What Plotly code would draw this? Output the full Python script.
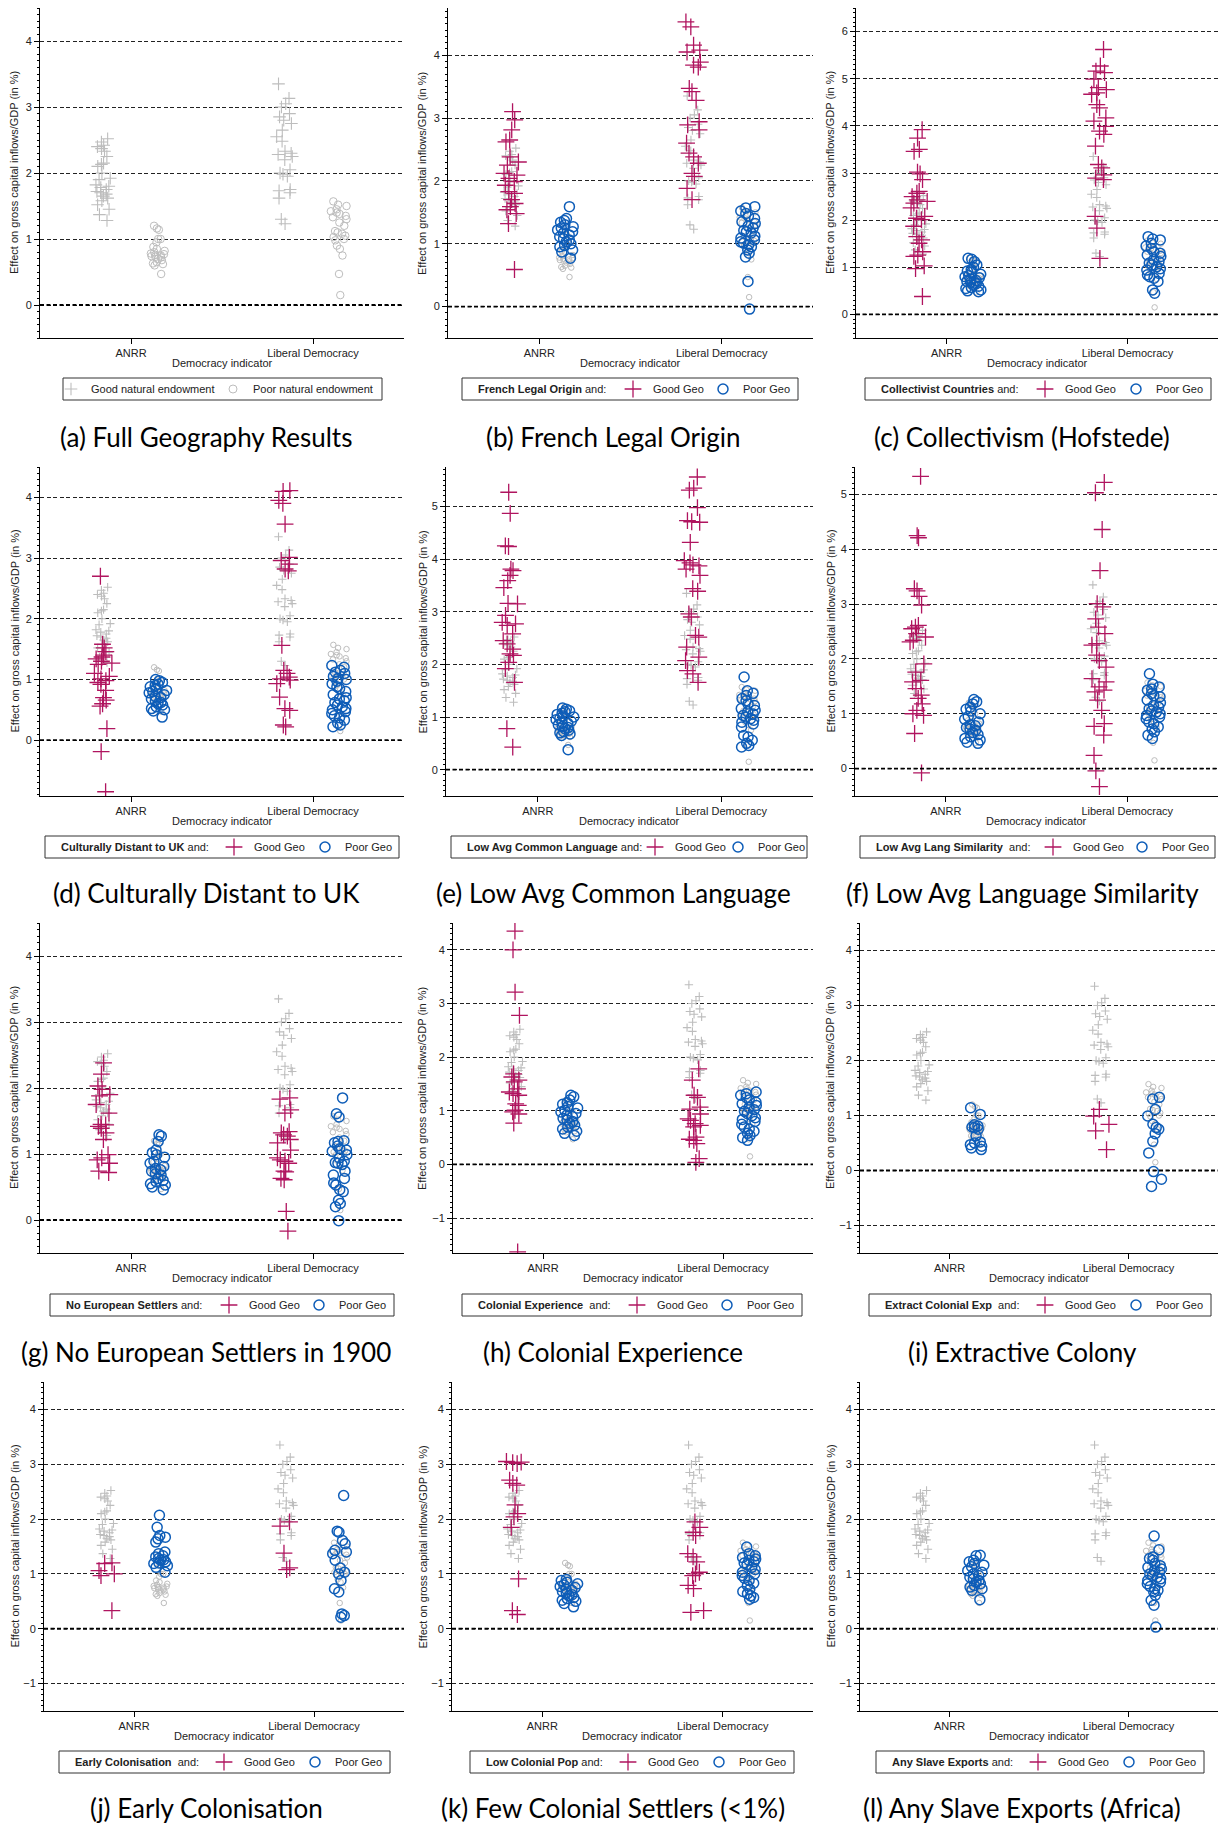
import plotly.graph_objects as go

W, H = 1220, 1825
CATS = ["ANRR", "Liberal Democracy"]

# ---------------- data (effect on gross capital inflows/GDP, in %) ----------------
# full sample (grey background in every panel)
full_good_anrr = [2.52, 2.47, 2.42, 2.40, 2.37, 2.33, 2.25, 2.15, 2.13, 2.10, 2.00, 1.92, 1.90, 1.82,
                  1.80, 1.78, 1.75, 1.72, 1.70, 1.68, 1.65, 1.62, 1.58, 1.52, 1.45, 1.37, 1.28]
full_good_libdem = [3.35, 3.13, 3.05, 3.00, 2.90, 2.85, 2.80, 2.75, 2.65, 2.55, 2.48, 2.33, 2.30, 2.28,
                    2.25, 2.20, 2.05, 2.00, 1.98, 1.95, 1.75, 1.73, 1.70, 1.62, 1.30, 1.23]
full_poor_anrr = [1.20, 1.16, 1.14, 1.00, 1.00, 0.95, 0.88, 0.85, 0.82, 0.80, 0.78, 0.77, 0.76, 0.75,
                  0.74, 0.73, 0.72, 0.70, 0.68, 0.65, 0.63, 0.62, 0.60, 0.47]
full_poor_libdem = [1.57, 1.52, 1.50, 1.45, 1.42, 1.40, 1.38, 1.35, 1.33, 1.30, 1.25, 1.20, 1.12, 1.10,
                    1.08, 1.05, 1.03, 1.00, 0.98, 0.90, 0.85, 0.75, 0.47, 0.15]

french_good_anrr = [3.10, 2.97, 2.81, 2.65, 2.62, 2.38, 2.30, 2.25, 2.12, 2.09, 2.04, 1.99, 1.93, 1.83,
                    1.80, 1.70, 1.64, 1.59, 1.54, 1.48, 1.32, 0.59]
french_good_libdem = [4.53, 4.45, 4.16, 4.08, 4.05, 3.89, 3.84, 3.81, 3.47, 3.42, 3.28, 2.94, 2.89, 2.81,
                      2.60, 2.44, 2.38, 2.28, 2.12, 2.07, 1.88, 1.70]
french_poor_anrr = [1.59, 1.40, 1.37, 1.34, 1.30, 1.27, 1.25, 1.22, 1.19, 1.17, 1.14, 1.11, 1.08, 1.06,
                    1.03, 1.00, 0.97, 0.95, 0.90, 0.87, 0.77]
french_poor_libdem = [1.59, 1.57, 1.52, 1.48, 1.44, 1.40, 1.35, 1.32, 1.28, 1.25, 1.21, 1.19, 1.17, 1.12,
                      1.09, 1.06, 1.03, 1.01, 0.98, 0.95, 0.90, 0.85, 0.79, 0.40, -0.04]

collect_good_anrr = [3.92, 3.74, 3.50, 3.46, 3.02, 2.98, 2.86, 2.61, 2.57, 2.50, 2.43, 2.40, 2.36, 2.26,
                     2.08, 2.04, 2.01, 1.87, 1.65, 1.58, 1.51, 1.33, 1.26, 1.23, 1.03, 0.97, 0.38]
collect_good_libdem = [5.62, 5.27, 5.16, 5.13, 4.99, 4.81, 4.77, 4.70, 4.67, 4.45, 4.38, 4.17, 4.10, 3.99,
                       3.89, 3.82, 3.57, 3.18, 3.11, 2.96, 2.89, 2.86, 2.08, 1.83, 1.19]
collect_poor_anrr = [1.19, 1.17, 1.12, 1.05, 1.00, 0.95, 0.92, 0.90, 0.85, 0.82, 0.80, 0.78, 0.75, 0.72,
                     0.70, 0.68, 0.65, 0.62, 0.60, 0.57, 0.55, 0.52, 0.50, 0.48]
collect_poor_libdem = [1.65, 1.60, 1.58, 1.51, 1.45, 1.40, 1.33, 1.30, 1.26, 1.23, 1.16, 1.12, 1.09, 1.05,
                       1.01, 0.97, 0.94, 0.87, 0.84, 0.80, 0.77, 0.70, 0.52, 0.45]

distant_good_anrr = [2.70, 1.58, 1.52, 1.46, 1.40, 1.37, 1.34, 1.30, 1.27, 1.25, 1.10, 1.05, 1.01, 0.98,
                     0.95, 0.92, 0.82, 0.70, 0.66, 0.60, 0.56, 0.19, -0.19, -0.85]
distant_good_libdem = [4.11, 4.10, 3.95, 3.90, 3.56, 3.01, 2.96, 2.90, 2.82, 2.79, 1.56, 1.15, 1.10, 1.04,
                       1.01, 0.99, 0.93, 0.71, 0.52, 0.49, 0.25, 0.22]
distant_poor_anrr = [1.00, 0.98, 0.95, 0.92, 0.90, 0.88, 0.85, 0.82, 0.80, 0.78, 0.75, 0.72, 0.70, 0.68,
                     0.65, 0.62, 0.60, 0.58, 0.55, 0.52, 0.50, 0.48, 0.38]
distant_poor_libdem = [1.23, 1.20, 1.15, 1.12, 1.10, 1.05, 1.02, 1.00, 0.97, 0.93, 0.88, 0.85, 0.80, 0.75,
                       0.70, 0.68, 0.65, 0.62, 0.58, 0.55, 0.52, 0.50, 0.47, 0.44, 0.40, 0.37, 0.33, 0.28,
                       0.25, 0.22]

commonlang_good_anrr = [5.27, 4.87, 4.25, 4.24, 3.81, 3.78, 3.69, 3.59, 3.46, 3.16, 3.15, 2.93, 2.80, 2.77,
                        2.74, 2.58, 2.45, 2.39, 2.29, 2.20, 2.17, 2.04, 1.92, 1.66, 0.78, 0.43]
commonlang_good_libdem = [5.56, 5.35, 5.31, 4.98, 4.73, 4.71, 4.70, 4.32, 3.97, 3.93, 3.89, 3.87, 3.81,
                          3.69, 3.44, 3.39, 2.96, 2.90, 2.55, 2.52, 2.33, 2.14, 2.07, 1.88, 1.82, 1.66]
commonlang_poor_anrr = [1.17, 1.15, 1.12, 1.10, 1.07, 1.05, 1.02, 1.00, 0.97, 0.95, 0.92, 0.90, 0.88, 0.85,
                        0.82, 0.80, 0.78, 0.75, 0.72, 0.70, 0.68, 0.65, 0.38]
commonlang_poor_libdem = [1.76, 1.50, 1.45, 1.41, 1.35, 1.31, 1.25, 1.22, 1.16, 1.13, 1.10, 1.06, 1.03,
                          1.00, 0.97, 0.94, 0.90, 0.87, 0.81, 0.65, 0.62, 0.56, 0.50, 0.46, 0.43]

langsim_good_anrr = [5.33, 4.25, 4.21, 3.28, 3.24, 3.14, 2.98, 2.61, 2.58, 2.55, 2.46, 2.40, 2.34, 2.31,
                     1.91, 1.76, 1.61, 1.58, 1.46, 1.34, 1.28, 1.18, 1.06, 1.00, 0.97, 0.64, -0.08]
langsim_good_libdem = [5.22, 5.03, 4.36, 3.61, 3.01, 2.95, 2.73, 2.58, 2.46, 2.28, 2.25, 2.07, 1.97, 1.85,
                       1.64, 1.58, 1.49, 1.43, 1.40, 1.25, 1.06, 0.82, 0.77, 0.61, 0.24, -0.04, -0.33]
langsim_poor_anrr = [1.26, 1.22, 1.18, 1.12, 1.08, 1.05, 1.00, 0.95, 0.90, 0.85, 0.80, 0.78, 0.75, 0.72,
                     0.70, 0.66, 0.62, 0.58, 0.55, 0.52, 0.48, 0.46]
langsim_poor_libdem = [1.73, 1.54, 1.49, 1.45, 1.43, 1.37, 1.33, 1.31, 1.25, 1.20, 1.15, 1.12, 1.09, 1.05,
                       1.03, 1.00, 0.97, 0.94, 0.91, 0.85, 0.82, 0.76, 0.72, 0.67, 0.61, 0.55]

nosettlers_good_anrr = [2.38, 2.21, 2.03, 1.98, 1.90, 1.88, 1.75, 1.62, 1.45, 1.44, 1.42, 1.39, 1.32, 1.22,
                        0.99, 0.94, 0.91, 0.86, 0.74, 0.72]
nosettlers_good_libdem = [1.85, 1.83, 1.67, 1.62, 1.34, 1.32, 1.29, 1.27, 1.22, 1.17, 1.06, 0.94, 0.91,
                          0.89, 0.86, 0.74, 0.73, 0.63, 0.61, 0.13, -0.17]
nosettlers_poor_anrr = [1.29, 1.27, 1.19, 1.06, 1.02, 0.99, 0.95, 0.89, 0.86, 0.81, 0.78, 0.76, 0.74, 0.70,
                        0.68, 0.63, 0.60, 0.58, 0.55, 0.53, 0.50, 0.46]
nosettlers_poor_libdem = [1.85, 1.61, 1.56, 1.20, 1.19, 1.17, 1.12, 1.08, 1.06, 1.04, 0.99, 0.94, 0.89,
                          0.87, 0.86, 0.84, 0.74, 0.68, 0.63, 0.56, 0.53, 0.46, 0.43, 0.30, 0.25, 0.20, -0.01]

colonial_good_anrr = [4.35, 4.00, 3.21, 2.78, 1.69, 1.63, 1.57, 1.54, 1.41, 1.35, 1.32, 1.29, 1.13, 1.10,
                      1.01, 0.98, 0.94, 0.77, -1.63]
colonial_good_libdem = [1.78, 1.57, 1.29, 1.25, 1.07, 1.03, 0.94, 0.85, 0.82, 0.76, 0.73, 0.70, 0.51, 0.47,
                        0.45, 0.39, 0.11, 0.04]
colonial_poor_anrr = [1.29, 1.26, 1.20, 1.15, 1.12, 1.08, 1.05, 1.01, 0.98, 0.95, 0.92, 0.89, 0.86, 0.83,
                      0.80, 0.77, 0.73, 0.70, 0.66, 0.62, 0.58, 0.54]
colonial_poor_libdem = [1.35, 1.32, 1.29, 1.25, 1.20, 1.16, 1.13, 1.10, 1.06, 1.02, 0.99, 0.95, 0.91, 0.87,
                        0.84, 0.80, 0.75, 0.70, 0.66, 0.62, 0.58, 0.54, 0.50, 0.45]

extract_good_anrr = []
extract_good_libdem = [1.11, 0.99, 0.84, 0.72, 0.38]
extract_poor_anrr = [1.14, 1.02, 0.83, 0.81, 0.79, 0.78, 0.75, 0.63, 0.52, 0.50, 0.47, 0.44, 0.41, 0.38]
extract_poor_libdem = [1.33, 1.30, 1.11, 0.99, 0.84, 0.78, 0.75, 0.67, 0.53, 0.32, -0.02, -0.16, -0.29]

early_good_anrr = [1.20, 1.19, 1.06, 1.00, 0.97, 0.33]
early_good_libdem = [1.95, 1.87, 1.38, 1.11, 1.08]
early_poor_anrr = [2.07, 1.85, 1.70, 1.67, 1.64, 1.58, 1.40, 1.37, 1.33, 1.31, 1.28, 1.26, 1.25, 1.22,
                   1.20, 1.19, 1.15, 1.12, 1.03]
early_poor_libdem = [2.43, 1.78, 1.76, 1.61, 1.55, 1.43, 1.40, 1.37, 1.25, 1.11, 1.03, 1.00, 0.88, 0.73,
                     0.67, 0.27, 0.24, 0.21]

lowpop_good_anrr = [3.05, 3.04, 3.03, 3.01, 2.71, 2.65, 2.62, 2.26, 2.10, 2.04, 1.85, 0.91, 0.33, 0.26]
lowpop_good_libdem = [1.95, 1.85, 1.76, 1.70, 1.37, 1.31, 1.22, 1.03, 1.00, 0.97, 0.79, 0.73, 0.33, 0.30]
lowpop_poor_anrr = [0.90, 0.88, 0.85, 0.82, 0.80, 0.77, 0.75, 0.72, 0.70, 0.68, 0.65, 0.62, 0.60, 0.57,
                    0.55, 0.52, 0.50, 0.46, 0.40]
lowpop_poor_libdem = [1.49, 1.37, 1.33, 1.30, 1.27, 1.25, 1.22, 1.20, 1.17, 1.12, 1.08, 1.03, 1.00, 0.97,
                      0.92, 0.88, 0.83, 0.79, 0.72, 0.68, 0.64, 0.60, 0.57, 0.54]

slave_good_anrr = []
slave_good_libdem = []
slave_poor_anrr = [1.34, 1.33, 1.25, 1.22, 1.19, 1.16, 1.13, 1.06, 1.03, 1.00, 0.97, 0.94, 0.91, 0.88,
                   0.85, 0.82, 0.79, 0.76, 0.73, 0.70, 0.53]
slave_poor_libdem = [1.69, 1.44, 1.31, 1.28, 1.25, 1.19, 1.15, 1.12, 1.09, 1.06, 1.03, 1.00, 0.97, 0.94,
                     0.91, 0.88, 0.85, 0.82, 0.77, 0.73, 0.70, 0.67, 0.61, 0.52, 0.43, 0.03]

# ---------------- panel definitions ----------------
# box: plot area (left, right, top, bottom) px; lbox: legend frame (left, right) px;
# ltext: (x where first legend label starts, distance between legend labels) px
panels = [
    dict(cap="(a) Full Geography Results", leg=None, data=None, yr=[-0.5, 4.5],
         box=(40, 404, 8, 338), lbox=(63, 382), ltext=(91, 162)),
    dict(cap="(b) French Legal Origin", leg="<b>French Legal Origin</b> and:",
         data=(french_good_anrr, french_good_libdem, french_poor_anrr, french_poor_libdem),
         yr=[-0.5, 4.75], box=(448, 813, 8, 338), lbox=(462, 798), ltext=(653, 90)),
    dict(cap="(c) Collectivism (Hofstede)", leg="<b>Collectivist Countries</b> and:",
         data=(collect_good_anrr, collect_good_libdem, collect_poor_anrr, collect_poor_libdem),
         yr=[-0.5, 6.5], box=(856, 1218, 8, 338), lbox=(865, 1211), ltext=(1065, 91)),
    dict(cap="(d) Culturally Distant to UK", leg="<b>Culturally Distant to UK</b> and:",
         data=(distant_good_anrr, distant_good_libdem, distant_poor_anrr, distant_poor_libdem),
         yr=[-0.92, 4.5], box=(40, 404, 467, 796), lbox=(45, 399), ltext=(254, 91)),
    dict(cap="(e) Low Avg Common Language", leg="<b>Low Avg Common Language</b> and:",
         data=(commonlang_good_anrr, commonlang_good_libdem, commonlang_poor_anrr, commonlang_poor_libdem),
         yr=[-0.5, 5.75], box=(446, 813, 467, 796), lbox=(451, 807), ltext=(675, 83)),
    dict(cap="(f) Low Avg Language Similarity", leg="<b>Low Avg Lang Similarity</b>&nbsp; and:",
         data=(langsim_good_anrr, langsim_good_libdem, langsim_poor_anrr, langsim_poor_libdem),
         yr=[-0.5, 5.5], box=(855, 1218, 467, 796), lbox=(860, 1215), ltext=(1073, 89)),
    dict(cap="(g) No European Settlers in 1900", leg="<b>No European Settlers</b> and:",
         data=(nosettlers_good_anrr, nosettlers_good_libdem, nosettlers_poor_anrr, nosettlers_poor_libdem),
         yr=[-0.5, 4.5], box=(40, 404, 923, 1253), lbox=(50, 394), ltext=(249, 90)),
    dict(cap="(h) Colonial Experience", leg="<b>Colonial Experience</b>&nbsp; and:",
         data=(colonial_good_anrr, colonial_good_libdem, colonial_poor_anrr, colonial_poor_libdem),
         yr=[-1.65, 4.5], box=(453, 813, 923, 1253), lbox=(462, 802), ltext=(657, 90)),
    dict(cap="(i) Extractive Colony", leg="<b>Extract Colonial Exp</b>&nbsp; and:",
         data=(extract_good_anrr, extract_good_libdem, extract_poor_anrr, extract_poor_libdem),
         yr=[-1.5, 4.5], box=(860, 1218, 923, 1253), lbox=(869, 1211), ltext=(1065, 91)),
    dict(cap="(j) Early Colonisation", leg="<b>Early Colonisation</b>&nbsp; and:",
         data=(early_good_anrr, early_good_libdem, early_poor_anrr, early_poor_libdem),
         yr=[-1.5, 4.5], box=(44, 404, 1382, 1711), lbox=(59, 390), ltext=(244, 91)),
    dict(cap="(k) Few Colonial Settlers (&lt;1%)", leg="<b>Low Colonial Pop</b> and:",
         data=(lowpop_good_anrr, lowpop_good_libdem, lowpop_poor_anrr, lowpop_poor_libdem),
         yr=[-1.5, 4.5], box=(452, 813, 1382, 1711), lbox=(470, 794), ltext=(648, 91)),
    dict(cap="(l) Any Slave Exports (Africa)", leg="<b>Any Slave Exports</b> and:",
         data=(slave_good_anrr, slave_good_libdem, slave_poor_anrr, slave_poor_libdem),
         yr=[-1.5, 4.5], box=(860, 1218, 1382, 1711), lbox=(876, 1204), ltext=(1058, 91)),
]

ROW_LEGEND_Y = [389, 847, 1305, 1762]
ROW_CAPTION_Y = [437, 893, 1352, 1808]
COL_CAPTION_X = [206, 613, 1022]
COL_YTITLE_X = [14, 422, 830]

MAGENTA = "#B0145F"
BLUE = "#0E5DB8"
GREY = "#BDBDBD"
AXFONT = "Liberation Sans, Arial, sans-serif"
CAPFONT = "Lato, Open Sans, sans-serif"

fig = go.Figure()
layout = dict(width=W, height=H, margin=dict(l=0, r=0, t=0, b=0),
              paper_bgcolor="white", plot_bgcolor="white",
              boxmode="group", boxgap=0.4, boxgroupgap=0.0,
              font=dict(family=AXFONT, size=11, color="#222"),
              annotations=[], shapes=[])


def strip(agroup, y_anrr, y_ld, xa, ya, grp, symbol, size, color, lw, jitter):
    xs = [CATS[0]] * len(y_anrr) + [CATS[1]] * len(y_ld)
    ys = list(y_anrr) + list(y_ld)
    return go.Box(x=xs, y=ys, xaxis=xa, yaxis=ya, offsetgroup=grp, alignmentgroup=agroup,
                  boxpoints="all", jitter=jitter, pointpos=0,
                  line=dict(width=0, color="rgba(0,0,0,0)"), fillcolor="rgba(0,0,0,0)",
                  marker=dict(symbol=symbol, size=size, color=color, line=dict(width=lw, color=color)),
                  showlegend=False, hoverinfo="y")


for i, p in enumerate(panels):
    n = i + 1
    row, col = divmod(i, 3)
    xa = "x" if n == 1 else f"x{n}"
    ya = "y" if n == 1 else f"y{n}"
    xkey = "xaxis" if n == 1 else f"xaxis{n}"
    ykey = "yaxis" if n == 1 else f"yaxis{n}"
    lkey = "legend" if n == 1 else f"legend{n}"
    l, r, t, b = p["box"]
    bl, br = p["lbox"]
    tx, tsp = p["ltext"]
    ly = ROW_LEGEND_Y[row]

    layout[xkey] = dict(domain=[l / W, r / W], anchor=ya, type="category",
                        categoryorder="array", categoryarray=CATS, range=[-0.5, 1.5],
                        showline=True, linecolor="black", linewidth=1, ticks="outside",
                        ticklen=5, tickcolor="black", showgrid=False, zeroline=False,
                        tickfont=dict(size=11, color="#222", family=AXFONT))
    layout[ykey] = dict(domain=[1 - b / H, 1 - t / H], anchor=xa, range=p["yr"],
                        tick0=0, dtick=1, showgrid=True, gridcolor="#222", gridwidth=1,
                        griddash="4px,2.5px", zeroline=False, showline=True, linecolor="black",
                        linewidth=1, ticks="outside", ticklen=5, tickcolor="black",
                        tickfont=dict(size=11, color="#222", family=AXFONT),
                        minor=dict(tick0=0, dtick=0.1, ticks="outside", ticklen=2.5,
                                   tickcolor="black", showgrid=False))

    big = p["data"] is None
    gsize_plus, gsize_circ = (9, 7.5) if big else (6, 5.5)
    # grey full-sample background
    fig.add_trace(strip(f"ag{n}", full_good_anrr, full_good_libdem, xa, ya, "good",
                        "cross-thin", gsize_plus, GREY, 1.1, 0.35))
    fig.add_trace(strip(f"ag{n}", full_poor_anrr, full_poor_libdem, xa, ya, "poor",
                        "circle-open", gsize_circ, GREY, 1.0, 0.35))
    if not big:
        ga, gl, pa, pl = p["data"]
        fig.add_trace(strip(f"ag{n}", ga, gl, xa, ya, "good", "cross-thin", 12, MAGENTA, 1.3, 0.35))
        fig.add_trace(strip(f"ag{n}", pa, pl, xa, ya, "poor", "circle-open", 10, BLUE, 1.5, 0.35))

    # legend entries
    if big:
        entries = [("Good natural endowment", "cross-thin", 9, GREY, 1.1),
                   ("Poor natural endowment", "circle-open", 8, GREY, 1.0)]
    else:
        entries = [("Good Geo", "cross-thin", 12, MAGENTA, 1.3),
                   ("Poor Geo", "circle-open", 10, BLUE, 1.5)]
    for k, (name, sym, sz, c, lw) in enumerate(entries):
        tr = go.Scatter(x=[None], y=[None], xaxis=xa, yaxis=ya, mode="markers", name=name,
                        marker=dict(symbol=sym, size=sz, color=c, line=dict(width=lw, color=c)),
                        legend=lkey, showlegend=True)
        if k == 0:
            tr.legendwidth = tsp - 45
        fig.add_trace(tr)
    leg = dict(x=(tx - 40) / W, xanchor="left", y=1 - ly / H, yanchor="middle",
               xref="paper", yref="paper", orientation="h",
               borderwidth=0, bgcolor="rgba(0,0,0,0)",
               font=dict(family=AXFONT, size=11, color="#222"),
               itemsizing="trace", itemclick=False, itemdoubleclick=False)
    if not big:
        layout["annotations"].append(dict(text=p["leg"], xref="paper", yref="paper",
                                          x=(bl + 14) / W, y=1 - ly / H, xanchor="left",
                                          yanchor="middle", showarrow=False,
                                          font=dict(family=AXFONT, size=11, color="#222")))
    layout[lkey] = leg
    # legend frame
    layout["shapes"].append(dict(type="rect", xref="paper", yref="paper", x0=bl / W, x1=br / W,
                                 y0=1 - (ly + 11) / H, y1=1 - (ly - 11) / H,
                                 line=dict(color="#333", width=1), fillcolor="rgba(0,0,0,0)"))

    # zero reference line (bold dashed)
    layout["shapes"].append(dict(type="line", xref=f"{xa} domain", x0=0, x1=1, yref=ya, y0=0, y1=0,
                                 line=dict(color="black", width=1.8, dash="4px,2.5px"), layer="above"))

    # axis titles
    layout["annotations"].append(dict(text="Effect on gross capital inflows/GDP (in %)", xref="paper",
                                      yref="paper", x=COL_YTITLE_X[col] / W, y=1 - (t + b) / 2 / H,
                                      textangle=-90, showarrow=False, xanchor="center", yanchor="middle",
                                      font=dict(family=AXFONT, size=11, color="#222")))
    layout["annotations"].append(dict(text="Democracy indicator", xref="paper", yref="paper",
                                      x=(l + r) / 2 / W, y=1 - (b + 25) / H, showarrow=False,
                                      xanchor="center", yanchor="middle",
                                      font=dict(family=AXFONT, size=11, color="#222")))
    # caption
    layout["annotations"].append(dict(text=p["cap"], xref="paper", yref="paper",
                                      x=COL_CAPTION_X[col] / W, y=1 - ROW_CAPTION_Y[row] / H,
                                      showarrow=False, xanchor="center", yanchor="middle",
                                      font=dict(family=CAPFONT, size=26, color="black")))

fig.update_layout(**layout)
fig.write_html("out.html", config={"displayModeBar": False},
               post_script="document.body.style.margin='0';document.body.style.overflow='hidden';")
